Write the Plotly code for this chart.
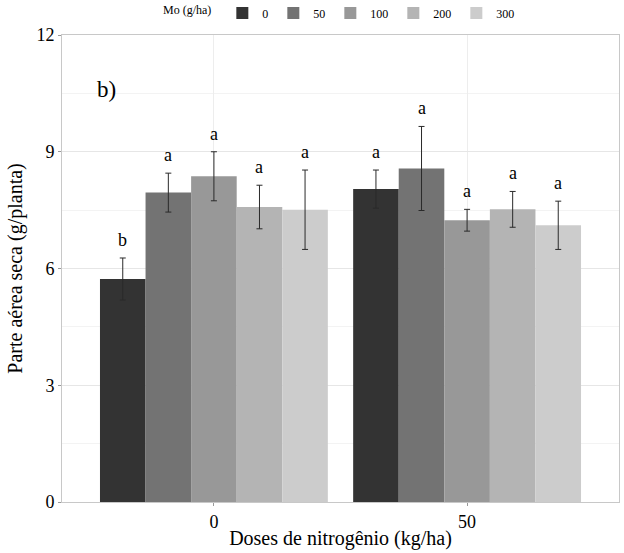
import plotly.graph_objects as go

nitrogen = ["0", "50"]
mo_levels = ["0", "50", "100", "200", "300"]
colors = ["#333333", "#737373", "#989898", "#B4B4B4", "#CCCCCC"]

# means per Mo level, for N = 0 and N = 50
means = {
    "0":   [5.73, 8.04],
    "50":  [7.95, 8.57],
    "100": [8.37, 7.24],
    "200": [7.58, 7.52],
    "300": [7.51, 7.11],
}
errors = {
    "0":   [0.54, 0.49],
    "50":  [0.50, 1.08],
    "100": [0.63, 0.28],
    "200": [0.56, 0.46],
    "300": [1.02, 0.62],
}
letters = {
    "0":   ["b", "a"],
    "50":  ["a", "a"],
    "100": ["a", "a"],
    "200": ["a", "a"],
    "300": ["a", "a"],
}

FONT = "Liberation Serif"
fig = go.Figure()
for mo, col in zip(mo_levels, colors):
    fig.add_trace(go.Bar(
        x=nitrogen, y=means[mo], name=mo, marker=dict(color=col, line=dict(width=0)),
        error_y=dict(type="data", array=errors[mo], color="#2a2a2a", thickness=1, width=3),
    ))

groupwidth = 0.9
n = len(mo_levels)
for i, mo in enumerate(mo_levels):
    off = -groupwidth / 2 + groupwidth / n * (i + 0.5)
    for j, _ in enumerate(nitrogen):
        fig.add_annotation(
            x=j + off, y=means[mo][j] + errors[mo][j], text=letters[mo][j],
            showarrow=False, yanchor="bottom", yshift=6,
            font=dict(family=FONT, size=18, color="black"),
        )

fig.add_annotation(x=0.059, y=0.914, xref="paper", yref="paper", text="b)",
                   showarrow=False, font=dict(family=FONT, size=23, color="black"))

fig.update_layout(
    width=624, height=553,
    margin=dict(l=62, r=5, t=35, b=51, autoexpand=False),
    paper_bgcolor="white", plot_bgcolor="white",
    barmode="group", bargap=0.1, bargroupgap=0,
    font=dict(family=FONT, color="black"),
    legend=dict(
        orientation="h", x=0.5, xanchor="center", y=1.047, yanchor="middle",
        title=dict(text="Mo (g/ha) ", side="left", font=dict(size=12, family=FONT)),
        font=dict(size=12, family=FONT), itemwidth=30, traceorder="normal",
    ),
    xaxis=dict(
        range=[-0.6, 1.6], showgrid=True, gridcolor="#ededed",
        showline=True, linecolor="#c8c8c8", mirror=True, automargin=False,
        ticks="outside", ticklen=3, tickcolor="#999999",
        tickfont=dict(size=18, family=FONT), title=dict(text="Doses de nitrogênio (kg/ha)",
        font=dict(size=20, family=FONT), standoff=0),
    ),
    yaxis=dict(
        range=[0, 12], tickvals=[0, 3, 6, 9, 12], showgrid=True, gridcolor="#e6e6e6",
        minor=dict(tickvals=[1.5, 4.5, 7.5, 10.5], showgrid=True, gridcolor="#f3f3f3"),
        showline=True, linecolor="#c8c8c8", mirror=True, zeroline=False, automargin=False,
        ticks="outside", ticklen=3, tickcolor="#999999",
        tickfont=dict(size=18, family=FONT),
        title=dict(text="Parte aérea seca (g/planta)", font=dict(size=20, family=FONT), standoff=8),
    ),
)

fig.write_html("out.html", config={"displayModeBar": False},
               post_script="document.body.style.margin='0';document.body.style.padding='0';")
